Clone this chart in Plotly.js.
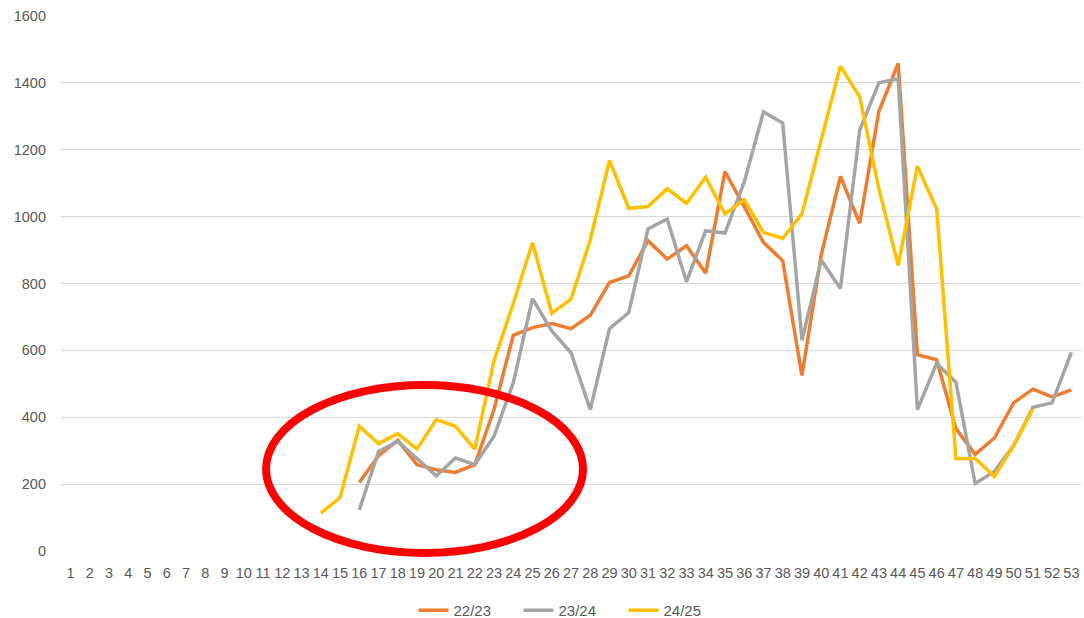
<!DOCTYPE html>
<html>
<head>
<meta charset="utf-8">
<script src="https://cdn.plot.ly/plotly-3.0.1.min.js"></script>
<style>html,body{margin:0;padding:0;background:#fff;}#chart{width:1084px;height:618px;}</style>
</head>
<body>
<div id="chart"></div>
<script>
var weeks = [1,2,3,4,5,6,7,8,9,10,11,12,13,14,15,16,17,18,19,20,21,22,23,24,25,26,27,28,29,30,31,32,33,34,35,36,37,38,39,40,41,42,43,44,45,46,47,48,49,50,51,52,53];
var seriesNames = ["22/23", "23/24", "24/25"];
var s2223 = [null,null,null,null,null,null,null,null,null,null,null,null,null,null,null,
  205,285,331,258,243,235,258,423,645,668,680,665,705,803,823,928,873,913,831,1135,1030,923,868,525,885,1120,980,1315,1458,587,572,366,289,338,443,484,461,482];
var s2324 = [null,null,null,null,null,null,null,null,null,null,null,null,null,null,null,
  123,298,328,278,225,278,258,343,503,755,658,593,423,665,713,963,993,805,958,951,1103,1313,1280,630,870,785,1258,1400,1412,423,561,505,202,238,315,430,443,594];
var s2425 = [null,null,null,null,null,null,null,null,null,null,null,null,null,
  113,160,373,321,351,305,393,373,305,568,740,922,711,753,930,1168,1025,1030,1083,1040,1118,1008,1050,953,935,1008,1230,1450,1358,1083,854,1151,1023,277,277,223,315,425,null,null];
var colors = ["#ED7D31", "#A5A5A5", "#FFC000"];
var yTicks = [0,200,400,600,800,1000,1200,1400,1600];

var allSeries = [s2223, s2324, s2425];
var traces = allSeries.map(function(s, i){
  return {x: weeks, y: s, type: "scatter", mode: "lines", name: seriesNames[i],
    line: {color: colors[i], width: 3.5}, connectgaps: false};
});

var font = {family: "Liberation Sans, Arial, sans-serif", size: 14.5, color: "#595959"};
var layout = {
  width: 1084, height: 618,
  margin: {l: 61, r: 3, t: 16, b: 67, autoexpand: false},
  paper_bgcolor: "#fff", plot_bgcolor: "#fff",
  font: font,
  showlegend: true,
  legend: {orientation: "h", x: 0.5, xanchor: "center", y: -0.111, yanchor: "middle",
    font: {family: font.family, size: 15, color: "#595959"}, itemwidth: 30, tracegroupgap: 0,
    entrywidth: 60, entrywidthmode: "pixels"},
  xaxis: {range: [0.5, 53.5], tickmode: "array", tickvals: weeks, ticktext: weeks.map(String),
    showgrid: false, zeroline: false, showline: false, ticks: "", ticklabelstandoff: 11,
    automargin: false,
    tickfont: {family: font.family, size: 14.5, color: "#595959"}},
  yaxis: {range: [0, 1600], tickmode: "array", tickvals: yTicks, ticktext: yTicks.map(String),
    showgrid: true, gridcolor: "#D9D9D9", gridwidth: 1, zeroline: false, showline: false,
    ticks: "", ticklabelstandoff: 14, automargin: false,
    tickfont: {family: font.family, size: 14.5, color: "#595959"}},
  shapes: [{type: "circle", xref: "paper", yref: "paper",
    x0: 0.201, x1: 0.5118, y0: -0.0037, y1: 0.3103,
    line: {color: "#FF0000", width: 8}, fillcolor: "rgba(0,0,0,0)", layer: "above"}]
};
Plotly.newPlot("chart", traces, layout, {staticPlot: true});
</script>
</body>
</html>
